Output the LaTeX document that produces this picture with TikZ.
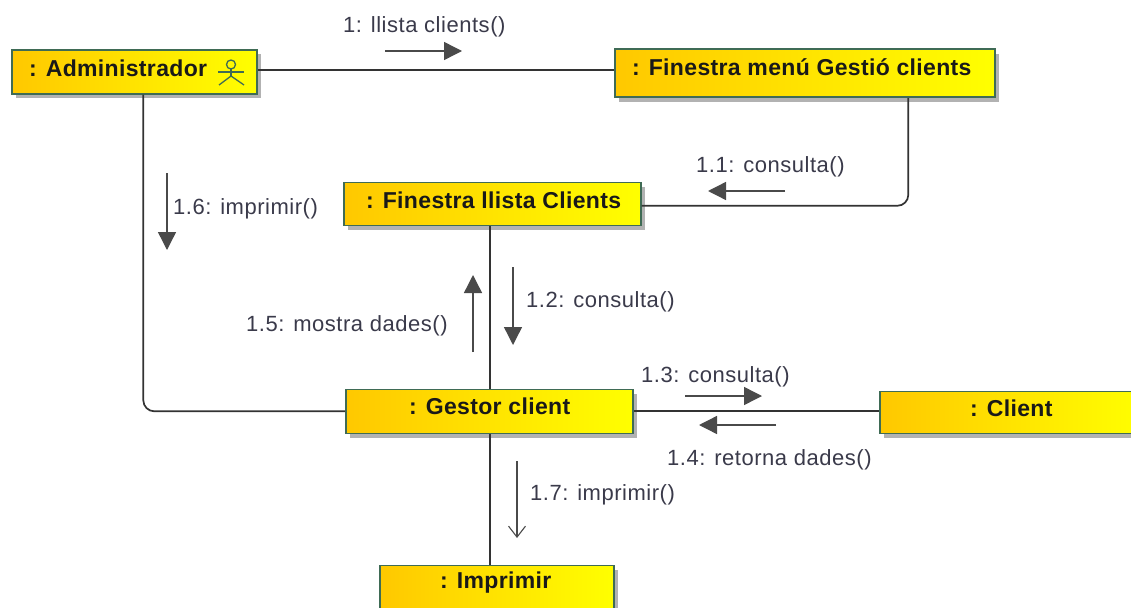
\documentclass[tikz,border=0pt]{standalone}
\usepackage{fontspec}
\setmainfont{Liberation Sans}
\newfontfamily\msgfont[LetterSpace=2.4]{Liberation Sans}
\newfontfamily\ttlfont[LetterSpace=1.5]{Liberation Sans}
\usetikzlibrary{arrows.meta,shadows,calc}
\definecolor{edgec}{HTML}{3F6B55}
\definecolor{linec}{HTML}{333333}
\definecolor{arrc}{HTML}{4A4A4A}
\definecolor{txtc}{HTML}{3A3A4A}
\definecolor{gold1}{HTML}{FFC800}
\tikzset{
  obj/.style={draw=edgec,line width=1.6pt,left color=gold1,right color=yellow,inner sep=0pt,anchor=north west,
     drop shadow={shadow xshift=4.5pt,shadow yshift=-4.5pt,fill=black!30,opacity=1}},
  ttl/.style={font=\ttlfont\fontsize{23}{26}\selectfont\bfseries,text=black!90,anchor=west,inner sep=0pt},
  conn/.style={draw=linec,line width=1.7pt,rounded corners=11pt},
  msg/.style={font=\msgfont\fontsize{22}{26}\selectfont,text=txtc,inner sep=0pt,anchor=west},
  solidarrow/.style={draw=arrc,line width=1.4pt,-{Triangle[length=18pt,width=18pt,fill=arrc]}},
  openarrow/.style={draw=arrc,line width=1.1pt,-{Straight Barb[length=11pt,width=17pt]}},
  actorline/.style={draw=edgec,line width=1.3pt}
}
\begin{document}
\begin{tikzpicture}[x=1pt,y=-1pt]
\useasboundingbox (0,0) rectangle (1131,607);
\node[obj,minimum width=245pt,minimum height=44pt] (admin) at (11,49) {};
\node[obj,minimum width=380pt,minimum height=48pt] (menu) at (614,48.5) {};
\node[obj,minimum width=297pt,minimum height=43pt] (llista) at (343,181.5) {};
\node[obj,minimum width=287pt,minimum height=44pt] (gestor) at (345,388.5) {};
\node[obj,minimum width=262pt,minimum height=42pt] (client) at (879,390.5) {};
\node[obj,minimum width=234pt,minimum height=46pt] (impr) at (379,564.5) {};
% connectors
\draw[conn] ([yshift=1.5pt]admin.east) -- ([yshift=1.5pt]admin.east -| menu.west);
\draw[conn] ([xshift=9pt]admin.south) |- (gestor.west);
\draw[conn] ([xshift=103.5pt]menu.south) |- ([yshift=-2pt]llista.east);
\draw[conn] (llista.south -| 490,0) -- (gestor.north -| 490,0);
\draw[conn] (gestor.east) -- (gestor.east -| client.west);
\draw[conn] (gestor.south -| 490,0) -- (impr.north -| 490,0);
% node titles
\node[ttl] (t1) at (29,68) {: Administrador};
\node[ttl] (t2) at (632,67) {: Finestra menú Gestió clients};
\node[ttl] (t3) at (366,200) {: Finestra llista Clients};
\node[ttl] (t4) at (409,406) {: Gestor client};
\node[ttl] (t5) at (970,408) {: Client};
\node[ttl] (t6) at (440,583) {: Imprimir};
% actor icon
\draw[actorline] (231,64.5) circle (4.5pt);
\draw[actorline] (218,72) -- (244,72);
\draw[actorline] (231,69) -- (231,76);
\draw[actorline] (219,85) -- (231,76) -- (244,85);
% message arrows
\coordinate (a1s) at (385,51); \coordinate (a1e) at (462,51);
\draw[solidarrow] (a1s) -- (a1e);
\coordinate (a2s) at (785,191); \coordinate (a2e) at (708,191);
\draw[solidarrow] (a2s) -- (a2e);
\coordinate (a3s) at (167,173); \coordinate (a3e) at (167,250);
\draw[solidarrow] (a3s) -- (a3e);
\coordinate (a4s) at (513,267); \coordinate (a4e) at (513,345);
\draw[solidarrow] (a4s) -- (a4e);
\coordinate (a5s) at (473,352); \coordinate (a5e) at (473,275);
\draw[solidarrow] (a5s) -- (a5e);
\coordinate (a6s) at (685,396); \coordinate (a6e) at (762,396);
\draw[solidarrow] (a6s) -- (a6e);
\coordinate (a7s) at (776,425); \coordinate (a7e) at (699,425);
\draw[solidarrow] (a7s) -- (a7e);
\coordinate (a8s) at (517,461); \coordinate (a8e) at (517,538);
\draw[openarrow] (a8s) -- (a8e);
% message labels
\node[msg] (m1) at (343,27) {1: llista clients()};
\node[msg] (m2) at (696,167) {1.1: consulta()};
\node[msg] (m3) at (173,209) {1.6: imprimir()};
\node[msg] (m4) at (526,302) {1.2: consulta()};
\node[msg] (m5) at (246,326) {1.5: mostra dades()};
\node[msg] (m6) at (641,377) {1.3: consulta()};
\node[msg] (m7) at (667,460) {1.4: retorna dades()};
\node[msg] (m8) at (530,495) {1.7: imprimir()};
\end{tikzpicture}
\end{document}
